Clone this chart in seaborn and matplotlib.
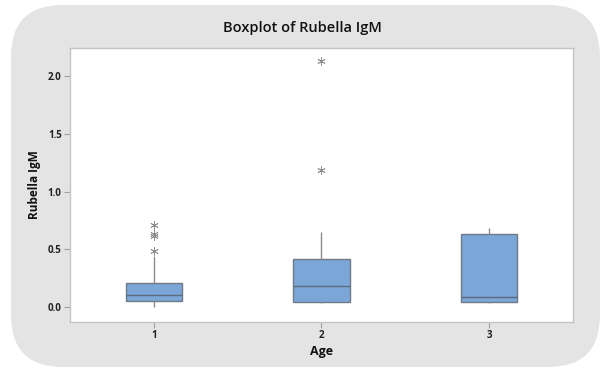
import numpy as np
import pandas as pd
import matplotlib
matplotlib.use("Agg")
import matplotlib.pyplot as plt
from matplotlib.patches import FancyBboxPatch
import seaborn as sns

age_groups = ["1", "2", "3"]
igm_age1 = [0.00, 0.02, 0.03, 0.04, 0.045, 0.05, 0.06, 0.07, 0.08, 0.09, 0.10,
            0.12, 0.14, 0.16, 0.19, 0.21, 0.44, 0.48, 0.61, 0.63, 0.71]
igm_age2 = [0.03, 0.035, 0.04, 0.04, 0.08, 0.12, 0.18, 0.25, 0.33, 0.415,
            0.65, 1.19, 2.13]
igm_age3 = [0.035, 0.04, 0.04, 0.06, 0.085, 0.35, 0.63, 0.66, 0.68]

df = pd.DataFrame({
    "Age": ["1"] * len(igm_age1) + ["2"] * len(igm_age2) + ["3"] * len(igm_age3),
    "Rubella IgM": igm_age1 + igm_age2 + igm_age3,
})

# ======== STYLE ========
sns.set_theme(style="white")
plt.rcParams["font.family"] = ["Open Sans", "DejaVu Sans"]

box_color = "#7ba6d8"
edge_color = "#6f7a86"
line_gray = "#8c8c8c"

fig = plt.figure(figsize=(6.05, 3.7), dpi=100)
fig.patch.set_facecolor("white")

# rounded grey panel behind everything
panel = FancyBboxPatch((0.11, 0.03), 5.89, 3.62,
                       boxstyle="round,pad=0,rounding_size=0.52",
                       transform=fig.dpi_scale_trans,
                       facecolor="#e4e4e4", edgecolor="none", zorder=-5)
fig.patches.append(panel)

ax = fig.add_axes([0.1157, 0.131, 0.8313, 0.7406])
ax.set_zorder(2)
ax.set_facecolor("white")

sns.boxplot(data=df, x="Age", y="Rubella IgM", order=age_groups, ax=ax,
            width=0.335, color=box_color, saturation=1, linewidth=1.0,
            whis=1.5,
            boxprops=dict(facecolor=box_color, edgecolor=edge_color),
            medianprops=dict(color="#5b6b7c", linewidth=1.0),
            whiskerprops=dict(color=line_gray, linewidth=1.0),
            capprops=dict(linewidth=0),
            flierprops=dict(marker=(6, 2, 0), markersize=6,
                            markeredgecolor="#8f8f8f", markerfacecolor="none",
                            markeredgewidth=0.6))

ax.set_xlim(-0.5, 2.5)
ax.set_ylim(-0.128, 2.25)
ax.set_yticks([0.0, 0.5, 1.0, 1.5, 2.0])
ax.set_yticklabels(["0.0", "0.5", "1.0", "1.5", "2.0"])

for s in ax.spines.values():
    s.set_color("#c4c4c4")
    s.set_linewidth(1.0)

ax.tick_params(axis="both", which="major", direction="out", length=4,
               width=0.8, color="#a0a0a0", labelsize=7, labelcolor="#222222",
               pad=2, bottom=True, left=True)
for lbl in ax.get_xticklabels() + ax.get_yticklabels():
    lbl.set_fontweight("bold")

ax.set_xlabel("Age", fontsize=9, fontweight="bold", color="#111111", labelpad=3)
ax.set_ylabel("Rubella IgM", fontsize=8.5, fontweight="bold", color="#111111", labelpad=5)
fig.text(0.5, 0.924, "Boxplot of Rubella IgM", ha="center", va="center",
         fontsize=10.5, fontweight="semibold", color="#111111")

fig.savefig("out.png", dpi=100)
